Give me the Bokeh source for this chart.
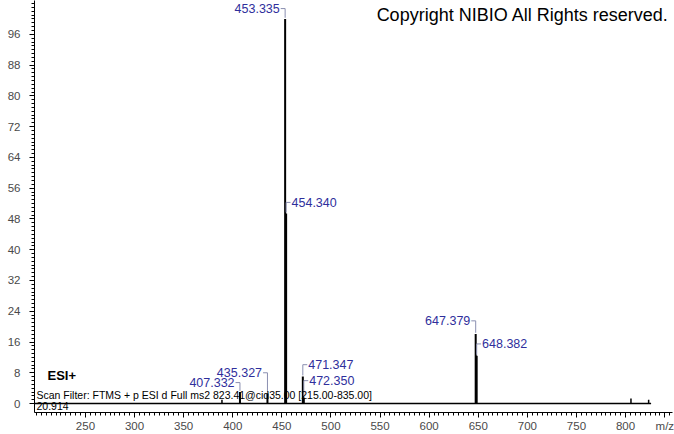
from bokeh.plotting import figure
from bokeh.models import Range1d, FixedTicker, Label, ColumnDataSource
from bokeh.core.properties import value
from bokeh.embed import file_html
from bokeh.resources import INLINE

# ---- data ----
peak_mz = [407.332, 435.327, 453.335, 454.340, 471.347, 472.350, 647.379, 648.382]
peak_int = [3.0, 2.6, 100.0, 49.4, 7.0, 1.6, 18.1, 12.4]
peak_text = ["407.332", "435.327", "453.335", "454.340", "471.347", "472.350", "647.379", "648.382"]
minor_mz = [389.0, 805.5, 823.5]
minor_int = [1.0, 1.3, 1.0]
baseline_mz = [198.0, 826.0]
baseline_int = [0.0, 0.0]
x_ticks = [250, 300, 350, 400, 450, 500, 550, 600, 650, 700, 750, 800]
x_unit_tick = 840
y_ticks = [0, 8, 16, 24, 32, 40, 48, 56, 64, 72, 80, 88, 96]

# ---- layout of peak annotations ----
label_side = ["left", "left", "left", "right", "right", "right", "left", "right"]
label_y = [5.45, 8.0, 102.7, 52.3, 10.1, 5.95, 21.5, 15.5]

FONT = "Liberation Sans"
BLUE = "#2f2f9c"
CONN = "#8a8fb0"

p = figure(width=674, height=434, output_backend="svg", toolbar_location=None,
           x_range=Range1d(198.1, 847.8), y_range=Range1d(-2.33, 104.8),
           min_border_left=34, min_border_right=2, min_border_top=0, min_border_bottom=20)
p.grid.visible = False
p.outline_line_color = None
p.background_fill_color = "white"
p.border_fill_color = "white"

# axes
p.xaxis.ticker = FixedTicker(ticks=x_ticks + [x_unit_tick],
                             minor_ticks=[v for v in range(200, 850, 5)])
p.xaxis.major_label_overrides = {x_unit_tick: "m/z"}
p.yaxis.ticker = FixedTicker(ticks=y_ticks, minor_ticks=list(range(0, 105)))
for ax in (p.xaxis[0], p.yaxis[0]):
    ax.axis_line_color = "black"
    ax.major_tick_line_color = "black"
    ax.minor_tick_line_color = "black"
    ax.major_label_text_font = FONT
    ax.major_label_text_font_size = "11.5px"
    ax.major_label_text_color = "#4a4a4a"
    ax.major_tick_in = 0
    ax.minor_tick_in = 0
p.xaxis.major_tick_out = 5
p.xaxis.minor_tick_out = 3
p.xaxis.major_label_standoff = 2
p.yaxis.major_tick_out = 5
p.yaxis.minor_tick_out = 3
p.yaxis.major_label_standoff = 9

# baseline
p.line(baseline_mz, baseline_int, line_color="black", line_width=1.5)

# minor peaks
p.segment(x0=minor_mz, y0=[0] * len(minor_mz), x1=minor_mz, y1=minor_int,
          line_color="black", line_width=1.5)

# labelled peaks
p.segment(x0=peak_mz, y0=[0] * len(peak_mz), x1=peak_mz, y1=peak_int,
          line_color="black", line_width=2)

# connectors and labels
xs, ys, tx, align = [], [], [], []
for mz, it, side, ly in zip(peak_mz, peak_int, label_side, label_y):
    d = -1 if side == "left" else 1
    xs.append([mz + d * 4.5, mz, mz])
    ys.append([ly, ly, it + 0.3])
    tx.append(mz + d * 5.5)
    align.append("right" if side == "left" else "left")
p.multi_line(xs, ys, line_color=CONN, line_width=1)
src = ColumnDataSource(dict(x=tx, y=label_y, t=peak_text, a=align))
p.text(x="x", y="y", text="t", text_align="a", text_baseline="middle", source=src,
       text_font=value(FONT), text_font_size="12.5px", text_color=BLUE)

# texts
p.add_layout(Label(x=546.5, y=100.9, text="Copyright NIBIO All Rights reserved.",
                   text_font=FONT, text_font_size="18px", text_color="black",
                   text_baseline="middle"))
p.add_layout(Label(x=211.3, y=7.24, text="ESI+", text_font=FONT, text_font_size="13px",
                   text_font_style="bold", text_color="black", text_baseline="middle"))
p.add_layout(Label(x=200.1, y=2.33,
                   text="Scan Filter: FTMS + p ESI d Full ms2 823.41@cid35.00 [215.00-835.00]",
                   text_font=FONT, text_font_size="10.5px", text_color="black",
                   text_baseline="middle"))
p.add_layout(Label(x=200.1, y=-0.55, text="20.914", text_font=FONT, text_font_size="10.5px",
                   text_color="black", text_baseline="middle"))

open("out.html", "w").write(file_html(p, INLINE))
